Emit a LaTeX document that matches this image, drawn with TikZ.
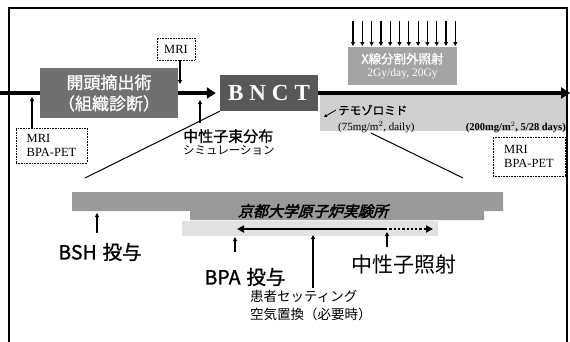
\documentclass[tikz,border=0pt]{standalone}
\usepackage{fontspec}
\setmainfont{Liberation Serif}
\newfontfamily\jp{Noto Sans CJK JP}
\newfontfamily\jpb[FakeBold=1.2]{Noto Sans CJK JP}
\newfontfamily\jpbi[FakeSlant=0.25,FakeBold=2.5]{Noto Sans CJK JP}
\usetikzlibrary{arrows.meta}
\definecolor{surggray}{HTML}{707070}
\definecolor{bnctgray}{HTML}{585858}
\definecolor{xraygray}{HTML}{A4A4A4}
\definecolor{temogray}{HTML}{CFCFCF}
\definecolor{bargray}{HTML}{9A9A9A}
\definecolor{bandgray}{HTML}{E2E2E2}
\tikzset{
  mainline/.style={line width=4pt},
  smallarrow/.style={line width=1.3pt,-{Triangle[length=4pt,width=4pt]}},
  xarrow/.style={line width=1.2pt,-{Triangle[length=4pt,width=4pt]}},
  dotbox/.style={draw,densely dotted,line width=0.6pt,fill=white,align=left,inner sep=2pt,font=\fontsize{12.5}{14}\selectfont},
  graybox/.style={inner sep=0pt,text=white,align=center},
}
\begin{document}
\begin{tikzpicture}[x=1pt,y=-1pt]
\useasboundingbox (0,0) rectangle (570,341);
\fill[white] (0,0) rectangle (570,341);
% frame
\draw[line width=1.5pt] (9,345) -- (9,8) -- (567,8) -- (567,345);
% temozolomide region
\fill[temogray] (320,95) rectangle (566,131);
% x-ray box
\node[graybox,fill=xraygray,minimum width=109pt,minimum height=38pt] (xray) at (402.5,66)
  {{\jpb\fontsize{12.5}{14}\selectfont X線分割外照射}\\[1pt]{\fontsize{11.5}{12}\selectfont 2Gy/day, 20Gy}};
\foreach \i in {0,...,11}{
  \draw[xarrow] (353+\i*9.3,21) -- (353+\i*9.3,46);
}
% boxes
\node[graybox,fill=surggray,minimum width=138pt,minimum height=50pt,font={\jpb\fontsize{17}{21}\selectfont}] (surg) at (109,93)
  {開頭摘出術\\（組織診断）};
\node[graybox,fill=bnctgray,minimum width=98pt,minimum height=36pt,font=\bfseries\fontsize{23}{24}\selectfont] (bnct) at (269,93) {B\hspace{6pt}N\hspace{6pt}C\hspace{6pt}T};
\node[dotbox,minimum width=38pt,minimum height=22pt,align=center] (mri1) at (176,49) {MRI};
\node[dotbox,minimum width=71pt,minimum height=35pt] (mri2) at (51.5,145.5) {MRI\\BPA-PET};
\node[dotbox,minimum width=72pt,minimum height=39pt] (mri3) at (529,156.5) {MRI\\BPA-PET};
% main timeline
\coordinate (lstart) at (0,93);
\coordinate (rend) at (570,93);
\draw[mainline] (lstart) -- (surg.west);
\draw[mainline,-{Triangle[length=9pt,width=11pt]}] (surg.east) -- ([xshift=-4pt]bnct.west);
\draw[mainline,-{Triangle[length=9pt,width=11pt]}] (bnct.east) -- (rend);
% small arrows around
\coordinate (mriA) at (180,84);
\draw[smallarrow] (mriA |- mri1.south) -- (mriA);
\coordinate (mriB) at (32,97);
\draw[smallarrow] (mriB |- mri2.north) -- (mriB);
% simulation
\node[anchor=north west,inner sep=0pt,align=left] (sim) at (183,129)
  {{\jpb\fontsize{15}{17}\selectfont 中性子束分布}\\[1pt]{\jp\fontsize{11.5}{13}\selectfont シミュレーション}};
\coordinate (simA) at (200,100);
\coordinate (simB) at (200,123);
\draw[smallarrow] (simB) -- (simA);
% temozolomide text
\node[anchor=west,inner sep=0pt] (temo) at (338,110) {\jpb\fontsize{11.5}{12}\selectfont テモゾロミド};
\coordinate (temoA) at (324,117);
\draw[line width=0.8pt,-{Triangle[length=3pt,width=3pt]}] ([xshift=-2pt]temo.west) -- (temoA);
\node[anchor=west,inner sep=0pt] (temo1) at (338,127) {\fontsize{11}{12}\selectfont (75mg/m$^2$, daily)};
\node[anchor=east,inner sep=0pt] (temo2) at (566,127) {\bfseries\fontsize{10.5}{12}\selectfont (200mg/m$^2$, 5/28 days)};
% diagonal zoom lines
\coordinate (dl) at (85,178);
\coordinate (dr1) at (371,133);
\coordinate (dr2) at (463,178);
\draw[line width=1pt] (bnct.south west) -- (dl);
\draw[line width=1pt] (dr1) -- (dr2);
% bars
\fill[bargray] (72,192) -- (503,192) -- (503,211) -- (484,211) -- (484,220) -- (190,220) -- (190,211) -- (72,211) -- cycle;
\node[inner sep=0pt] (kyoto) at (313,211) {\jpbi\fontsize{15}{16}\selectfont 京都大学原子炉実験所};
\fill[bandgray] (182,221) rectangle (438,236);
\coordinate (da) at (237,229);
\coordinate (db) at (385,229);
\coordinate (dc) at (433,229);
\draw[line width=2.3pt,-{Triangle[length=7pt,width=7pt]}] (db) -- (da);
\draw[line width=2.3pt,dotted,-{Triangle[length=7pt,width=7pt]}] (db) -- (dc);
% bottom labels
\node[inner sep=0pt] (bsh) at (100,252) {\jpb\fontsize{19.5}{20}\selectfont BSH\hspace{0.3em}投与};
\coordinate (bshA) at (97,213);
\draw[smallarrow,line width=1.6pt] (97,233) -- (bshA);
\node[inner sep=0pt] (bpa) at (245,277) {\jpb\fontsize{19.5}{20}\selectfont BPA\hspace{0.3em}投与};
\coordinate (bpaA) at (235,237);
\draw[smallarrow,line width=1.6pt] (235,252) -- (bpaA);
\node[inner sep=0pt] (neut) at (404,265) {\jp\fontsize{21}{23}\selectfont 中性子照射};
\coordinate (neutA) at (387,232);
\draw[smallarrow,line width=1.6pt] (387,247) -- (neutA);
\node[anchor=north west,inner sep=0pt,align=left,font={\jp\fontsize{13.5}{17.5}\selectfont}] (pat) at (250,290)
  {患者セッティング\\空気置換（必要時）};
\coordinate (patA) at (313,235);
\draw[smallarrow,line width=1.6pt] (313,288) -- (patA);
\end{tikzpicture}
\end{document}
